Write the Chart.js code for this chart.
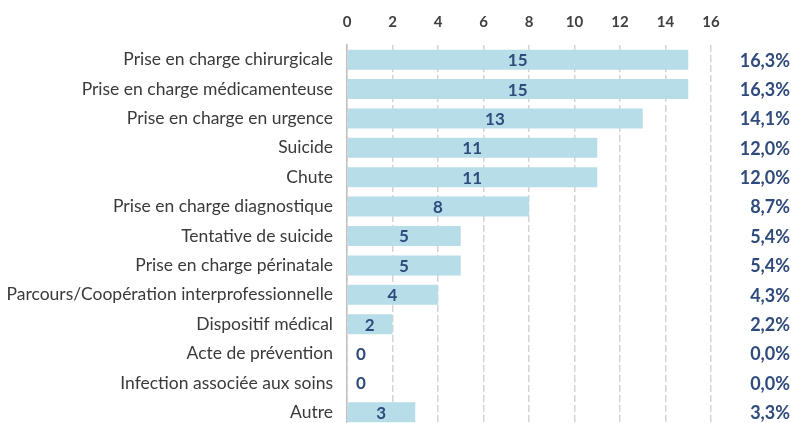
<!DOCTYPE html>
<html><head><meta charset="utf-8">
<script src="https://cdn.jsdelivr.net/npm/chart.js@4/dist/chart.umd.min.js"></script>
<style>
html,body{margin:0;padding:0;background:#fff;}
#wrap{width:791px;height:423px;overflow:hidden;position:relative;}
#c{display:block;}
</style></head>
<body><div id="wrap"><canvas id="c" width="791" height="427" style="width:791px;height:427px"></canvas></div>
<script>
const categories = ["Prise en charge chirurgicale","Prise en charge médicamenteuse","Prise en charge en urgence","Suicide","Chute","Prise en charge diagnostique","Tentative de suicide","Prise en charge périnatale","Parcours/Coopération interprofessionnelle","Dispositif médical","Acte de prévention","Infection associée aux soins","Autre"];
const counts = [15,15,13,11,11,8,5,5,4,2,0,0,3];
const percentLabels = ["16,3%","16,3%","14,1%","12,0%","12,0%","8,7%","5,4%","5,4%","4,3%","2,2%","0,0%","0,0%","3,3%"];
const xTicks = [0,2,4,6,8,10,12,14,16];

const FONT = "Lato, 'Open Sans', sans-serif";
const labelPlugin = {
  id: 'labels',
  afterDatasetsDraw(chart) {
    const ctx = chart.ctx;
    const meta = chart.getDatasetMeta(0);
    const xs = chart.scales.x;
    ctx.save();
    ctx.textBaseline = 'middle';
    meta.data.forEach((bar, i) => {
      const v = counts[i];
      ctx.fillStyle = '#2F4B7C';
      ctx.font = "bold 17px " + FONT;
      ctx.textAlign = 'center';
      const x0 = xs.getPixelForValue(0);
      const cx = v === 0 ? x0 + 14 : (x0 + bar.x) / 2;
      ctx.fillText(String(v), cx, bar.y + 1);
      ctx.font = "bold 18px " + FONT;
      ctx.textAlign = 'right';
      ctx.fillText(percentLabels[i], 790, bar.y + 1);
    });
    ctx.restore();
  }
};

new Chart(document.getElementById('c'), {
  type: 'bar',
  data: {
    labels: categories,
    datasets: [{
      data: counts,
      backgroundColor: '#B7DDE8',
      borderWidth: 0,
      categoryPercentage: 1,
      barPercentage: 0.68
    }]
  },
  options: {
    indexAxis: 'y',
    responsive: false,
    animation: false,
    devicePixelRatio: 1,
    layout: { autoPadding: false, padding: { left: 0, right: 80, top: 0, bottom: 0 } },
    plugins: { legend: { display: false }, tooltip: { enabled: false } },
    scales: {
      x: {
        position: 'top',
        min: 0, max: 16,
        afterBuildTicks(scale) { scale.ticks = xTicks.map(v => ({ value: v })); },
        afterFit(scale) { scale.height = 45; scale.paddingLeft = 0; scale.paddingRight = 0; },
        grid: { color: '#D4D4D4', lineWidth: 1.5, drawTicks: false },
        border: { display: false, dash: [7, 3] },
        ticks: { color: '#404040', font: { family: FONT, size: 15, weight: 'bold' }, padding: 14 }
      },
      y: {
        afterFit(scale) { scale.width = 347; scale.paddingTop = 0; scale.paddingBottom = 0; },
        grid: { display: false, drawTicks: false },
        border: { display: true, color: '#BFBFBF', width: 1.5 },
        ticks: { color: '#3A3A3A', font: { family: FONT, size: 17.5 }, padding: 14, autoSkip: false }
      }
    }
  },
  plugins: [labelPlugin]
});
</script></body></html>
